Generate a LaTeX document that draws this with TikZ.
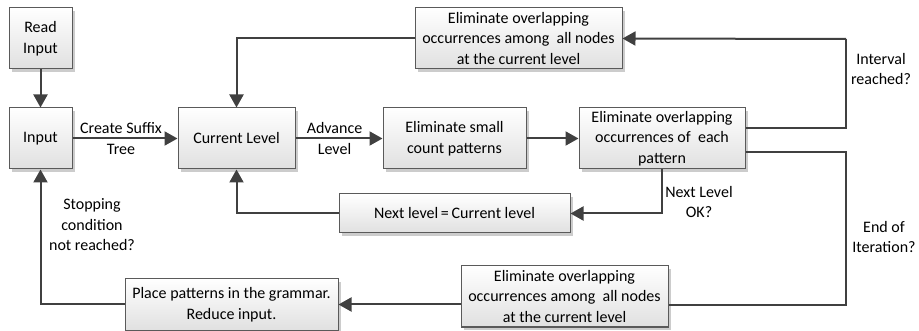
\documentclass[tikz,border=0pt]{standalone}
\usepackage{fontspec}
\setmainfont{Carlito}
\usetikzlibrary{arrows.meta,calc,shadows}
\definecolor{lineC}{HTML}{404040}
\definecolor{boxB}{HTML}{5A5A5A}
\begin{document}
\begin{tikzpicture}[x=1pt,y=-1pt,
  font=\fontsize{16}{20.5}\selectfont,
  box/.style={draw=boxB,line width=1pt,top color=white,bottom color=black!12,
    inner sep=0pt,
    drop shadow={shadow xshift=3pt,shadow yshift=-3pt,fill=black!20,opacity=1}},
  txt/.style={label={[align=center,inner sep=0pt]center:#1}},
  arr/.style={draw=lineC,line width=2pt,-{Triangle[length=13pt,width=14pt]}},
  ln/.style={draw=lineC,line width=1.5pt},
  lbl/.style={align=center,inner sep=0pt}]
\useasboundingbox (0,0) rectangle (919,331);
\node[box,minimum width=63pt,minimum height=61pt,txt={Read\\Input}] (read) at (40.5,38.5) {};
\node[box,minimum width=63pt,minimum height=61pt,txt={Input}] (input) at (40.5,138.5) {};
\node[box,minimum width=117pt,minimum height=61pt,txt={Current Level}] (cur) at (236.5,138.5) {};
\node[box,minimum width=143pt,minimum height=61pt,txt={Eliminate small\\count patterns}] (small) at (454.5,138.5) {};
\node[box,minimum width=166pt,minimum height=61pt,txt={Eliminate overlapping\\occurrences of\ \ each\\pattern}] (pat) at (662,138.5) {};
\node[box,minimum width=207pt,minimum height=61pt,txt={Eliminate overlapping\\occurrences among\ \ all nodes\\at the current level}] (top) at (518.5,38.5) {};
\node[box,minimum width=231pt,minimum height=39pt,txt={Next level\,=\,Current level}] (next) at (454.5,213.5) {};
\node[box,minimum width=207pt,minimum height=61pt,txt={Eliminate overlapping\\occurrences among\ \ all nodes\\at the current level}] (bot) at (564.5,296.5) {};
\node[box,minimum width=213pt,minimum height=51pt,txt={Place patterns in the grammar.\\Reduce input.}] (place) at (231.5,304.5) {};

\coordinate (c1) at (846,128);
\coordinate (c2) at (846,39);
\coordinate (c3) at (846,152);
\coordinate (c4) at (846,305);

\draw[arr] (read) -- (input);
\draw[arr] (input) -- (cur);
\draw[arr] (cur) -- (small);
\draw[arr] (small) -- (pat);
\draw[ln] ([yshift=10.5pt]pat.east) -- (c1) -- (c2);
\draw[arr] (c2) -- (top.east);
\draw[ln] ([yshift=-13.5pt]pat.east) -- (c3) -- (c4) -- (c4 -| bot.east);
\draw[arr] (bot.west |- place.east) -- (place.east);
\draw[arr] (place.west) -| (input.south);
\draw[arr] (pat.south) |- (next.east);
\draw[arr] (next.west) -| (cur.south);
\draw[arr] (top.west) -| (cur.north);

\node[lbl] (l1) at (121,138.5) {Create Suffix\\Tree};
\node[lbl] (l2) at (334.5,138.5) {Advance\\Level};
\node[lbl] (l3) at (881,69) {Interval\\reached?};
\node[lbl] (l4) at (699,202) {Next Level\\OK?};
\node[lbl] (l5) at (884,237) {End of\\Iteration?};
\node[lbl] (l6) at (92,225) {Stopping\\condition\\not reached?};
\end{tikzpicture}
\end{document}
